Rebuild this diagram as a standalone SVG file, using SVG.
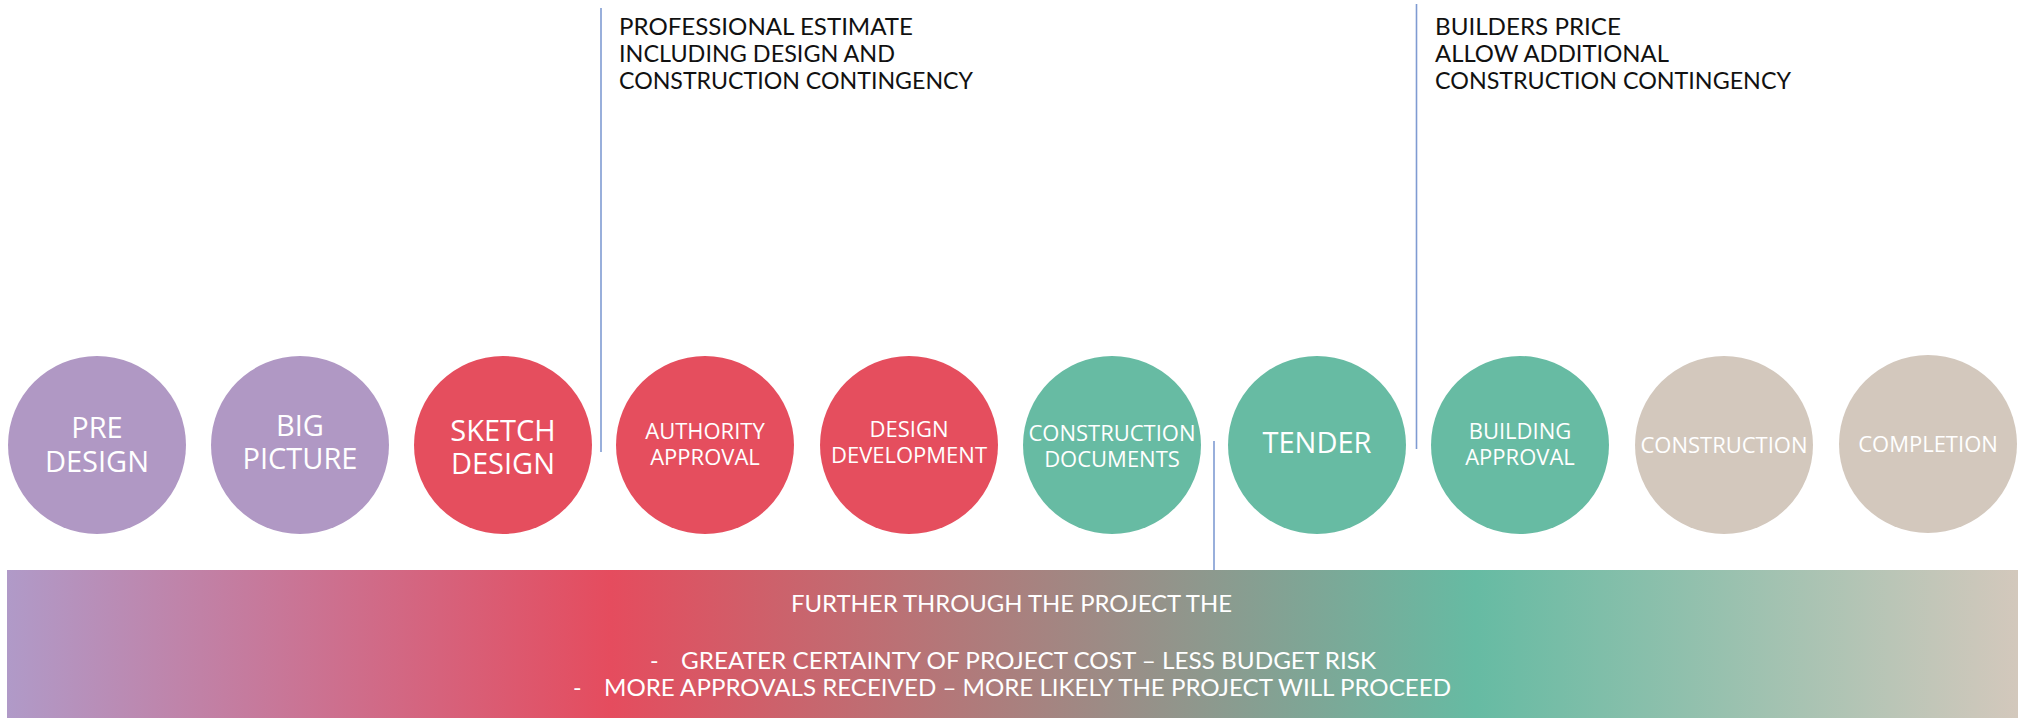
<svg xmlns="http://www.w3.org/2000/svg" width="2025" height="718" viewBox="0 0 2025 718">
<style>
.c{stroke:none}
.purple{fill:#B098C4}
.red{fill:#E54E5E}
.teal{fill:#67BBA3}
.beige{fill:#D3C8BD}
.lb{font-family:"Open Sans","DejaVu Sans",sans-serif;fill:#ffffff;text-anchor:middle}
.big{font-size:29px}
.sm{font-size:22px}
.note{font-family:Lato,"Open Sans",sans-serif;font-size:23px;fill:#111111}
.band{font-family:Lato,"Open Sans",sans-serif;font-size:23px;fill:#ffffff}
.con{stroke:#7F9BD2;stroke-width:1.6;fill:none}
</style>
<defs>
<linearGradient id="g" x1="7" y1="0" x2="2018" y2="0" gradientUnits="userSpaceOnUse">
<stop offset="0" stop-color="#B09AC8"/>
<stop offset="0.3" stop-color="#E54C5E"/>
<stop offset="0.73" stop-color="#66BBA3"/>
<stop offset="1" stop-color="#D3C8BC"/>
</linearGradient>
</defs>
<rect width="2025" height="718" fill="#ffffff"/>
<g id="band">
<rect x="7" y="570" width="2011" height="148" fill="url(#g)"/>
<text class="band" x="791" y="612" textLength="441" lengthAdjust="spacingAndGlyphs">FURTHER THROUGH THE PROJECT THE</text>
<text class="band" x="650" y="669">-</text>
<text class="band" x="681" y="669" textLength="695" lengthAdjust="spacingAndGlyphs">GREATER CERTAINTY OF PROJECT COST – LESS BUDGET RISK</text>
<text class="band" x="573" y="696">-</text>
<text class="band" x="604" y="696" textLength="847" lengthAdjust="spacingAndGlyphs">MORE APPROVALS RECEIVED – MORE LIKELY THE PROJECT WILL PROCEED</text>
</g>
<g id="connectors">
<line class="con" x1="601" y1="8" x2="601" y2="452"/>
<line class="con" x1="1214" y1="441" x2="1214" y2="570"/>
<line class="con" x1="1416.5" y1="4" x2="1416.5" y2="449"/>
</g>
<g id="note-professional">
<text class="note" x="619" y="35" textLength="294" lengthAdjust="spacingAndGlyphs">PROFESSIONAL ESTIMATE</text>
<text class="note" x="619" y="62" textLength="276" lengthAdjust="spacingAndGlyphs">INCLUDING DESIGN AND</text>
<text class="note" x="619" y="89" textLength="354" lengthAdjust="spacingAndGlyphs">CONSTRUCTION CONTINGENCY</text>
</g>
<g id="note-builders">
<text class="note" x="1435" y="35" textLength="186" lengthAdjust="spacingAndGlyphs">BUILDERS PRICE</text>
<text class="note" x="1435" y="62" textLength="234" lengthAdjust="spacingAndGlyphs">ALLOW ADDITIONAL</text>
<text class="note" x="1435" y="89" textLength="356" lengthAdjust="spacingAndGlyphs">CONSTRUCTION CONTINGENCY</text>
</g>
<g id="pre-design">
<circle class="c purple" cx="97" cy="445" r="89"/>
<text class="lb big" x="97" y="438">PRE</text>
<text class="lb big" x="97" y="472">DESIGN</text>
</g>
<g id="big-picture">
<circle class="c purple" cx="300" cy="445" r="89"/>
<text class="lb big" x="300" y="436">BIG</text>
<text class="lb big" x="300" y="469">PICTURE</text>
</g>
<g id="sketch-design">
<circle class="c red" cx="503" cy="445" r="89"/>
<text class="lb big" x="503" y="441">SKETCH</text>
<text class="lb big" x="503" y="474">DESIGN</text>
</g>
<g id="authority-approval">
<circle class="c red" cx="705" cy="445" r="89"/>
<text class="lb sm" x="705" y="439">AUTHORITY</text>
<text class="lb sm" x="705" y="465">APPROVAL</text>
</g>
<g id="design-development">
<circle class="c red" cx="909" cy="445" r="89"/>
<text class="lb sm" x="909" y="437">DESIGN</text>
<text class="lb sm" x="909" y="463">DEVELOPMENT</text>
</g>
<g id="construction-documents">
<circle class="c teal" cx="1112" cy="445" r="89"/>
<text class="lb sm" x="1112" y="441">CONSTRUCTION</text>
<text class="lb sm" x="1112" y="467">DOCUMENTS</text>
</g>
<g id="tender">
<circle class="c teal" cx="1317" cy="445" r="89"/>
<text class="lb big" x="1317" y="453">TENDER</text>
</g>
<g id="building-approval">
<circle class="c teal" cx="1520" cy="445" r="89"/>
<text class="lb sm" x="1520" y="439">BUILDING</text>
<text class="lb sm" x="1520" y="465">APPROVAL</text>
</g>
<g id="construction">
<circle class="c beige" cx="1724" cy="445" r="89"/>
<text class="lb sm" x="1724" y="453">CONSTRUCTION</text>
</g>
<g id="completion">
<circle class="c beige" cx="1928" cy="444" r="89"/>
<text class="lb sm" x="1928" y="452">COMPLETION</text>
</g>
</svg>
